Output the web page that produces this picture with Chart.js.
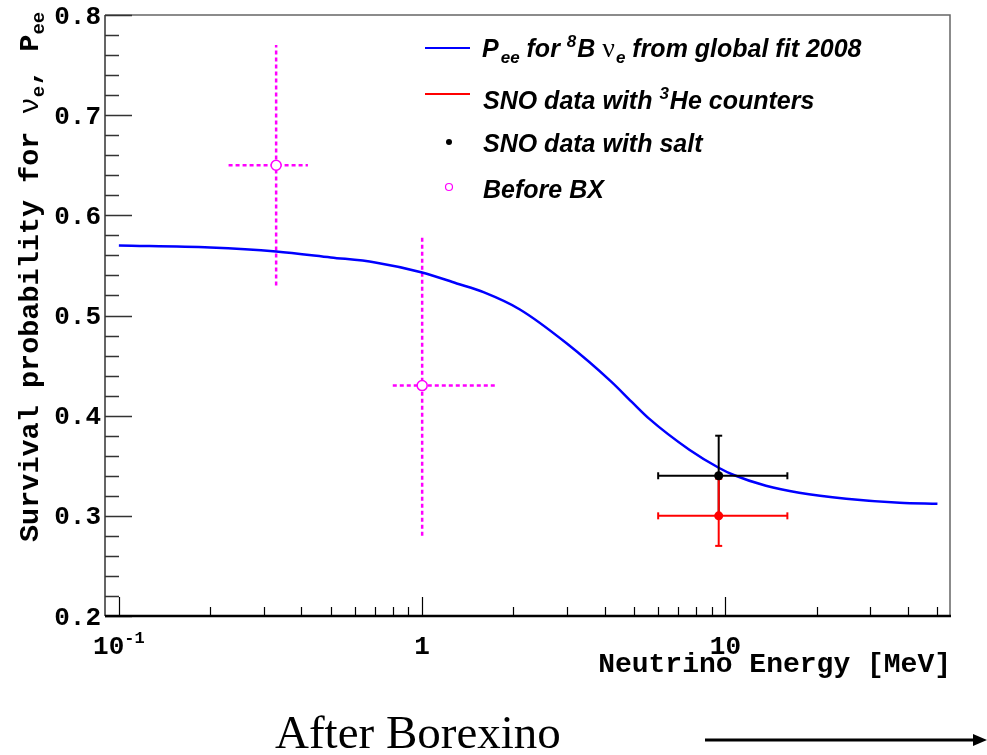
<!DOCTYPE html>
<html>
<head>
<meta charset="utf-8">
<script src="https://cdn.jsdelivr.net/npm/chart.js@4.4.1/dist/chart.umd.min.js"></script>
<style>
  html, body { margin: 0; padding: 0; background: #fff; }
  #wrap { width: 987px; height: 755px; }
</style>
</head>
<body>
<div id="wrap"><canvas id="pee" width="987" height="755"></canvas></div>
<script>
// global fit curve (Pee for 8B)
var fitE = [0.1, 0.2, 0.33, 0.5, 0.7, 1.0, 1.3, 1.6, 2.1, 3.0, 4.2, 4.9, 5.6, 7.6, 9.5, 10.6, 13.6, 17.5, 25, 37.5, 50];
var fitP = [0.570, 0.568, 0.564, 0.558, 0.553, 0.543, 0.532, 0.523, 0.506, 0.472, 0.434, 0.414, 0.397, 0.366, 0.348, 0.341, 0.330, 0.323, 0.317, 0.313, 0.312];

// SNO with 3He counters
var heE = [9.5], heP = [0.30], heElo = [6.0], heEhi = [16.0], hePlo = [0.27], hePhi = [0.337];
// SNO with salt
var saltE = [9.5], saltP = [0.34], saltElo = [6.0], saltEhi = [16.0], saltPlo = [0.30], saltPhi = [0.38];
// before BX
var bxE = [0.33, 1.0], bxP = [0.65, 0.43], bxElo = [0.23, 0.80], bxEhi = [0.42, 1.75], bxPlo = [0.53, 0.28], bxPhi = [0.77, 0.58];

// axes
var xMin = 0.09, xMax = 55, yMin = 0.2, yMax = 0.8;
var yTicks = [0.2, 0.3, 0.4, 0.5, 0.6, 0.7, 0.8];
var yTickLabels = ['0.2', '0.3', '0.4', '0.5', '0.6', '0.7', '0.8'];
var xTicks = [0.1, 1, 10];
var xTickLabels = [['10', '-1'], ['1', ''], ['10', '']];

var MONO = '"Liberation Mono", "Courier New", monospace';
var SANS = '"Liberation Sans", Arial, sans-serif';
var SERIF = '"Liberation Serif", "Times New Roman", serif';

function errorBars(xs, ys, xlo, xhi, ylo, yhi, color, dashed, caps) {
  var sets = [];
  for (var i = 0; i < xs.length; i++) {
    var base = {
      showLine: true, borderColor: color, borderWidth: dashed ? 2.5 : 2,
      borderDash: dashed ? [4, 3] : [], backgroundColor: color,
      pointRadius: caps ? 3.5 : 0, pointStyle: 'line',
      pointBorderColor: color, pointBorderWidth: 2
    };
    sets.push(Object.assign({}, base, {
      data: [{x: xlo[i], y: ys[i]}, {x: xhi[i], y: ys[i]}], pointRotation: 90
    }));
    sets.push(Object.assign({}, base, {
      data: [{x: xs[i], y: ylo[i]}, {x: xs[i], y: yhi[i]}], pointRotation: 0
    }));
  }
  return sets;
}

function pts(xs, ys) {
  return xs.map(function(v, i) { return {x: v, y: ys[i]}; });
}

// draw runs of text with sub/superscripts, returns width
function runs(ctx, parts, x, y, measureOnly) {
  var cx = x;
  parts.forEach(function(p) {
    ctx.font = p.font;
    if (!measureOnly) ctx.fillText(p.t, cx, y + (p.dy || 0));
    cx += ctx.measureText(p.t).width + (p.gap || 0);
  });
  return cx - x;
}

var axesPlugin = {
  id: 'rootAxes',
  afterDatasetsDraw: function(chart) {
    var ctx = chart.ctx, a = chart.chartArea, xs = chart.scales.x, ys = chart.scales.y;
    ctx.save();
    // frame
    ctx.lineWidth = 1.5;
    ctx.strokeStyle = '#666';
    ctx.beginPath();
    ctx.moveTo(a.left, a.top); ctx.lineTo(a.right, a.top); ctx.lineTo(a.right, a.bottom);
    ctx.stroke();
    // y axis
    ctx.strokeStyle = '#333';
    ctx.beginPath();
    ctx.moveTo(a.left, a.top); ctx.lineTo(a.left, a.bottom);
    for (var k = 0; k <= 30; k++) {
      var v = yMin + k * 0.02;
      var py = Math.round(ys.getPixelForValue(v)) + 0.5;
      var len = (k % 5 === 0) ? 27 : 14;
      ctx.moveTo(a.left, py); ctx.lineTo(a.left + len, py);
    }
    ctx.stroke();
    // x axis
    ctx.strokeStyle = '#000';
    ctx.lineWidth = 1.2;
    ctx.beginPath();
    [0.1, 1, 10].forEach(function(dec) {
      for (var m = 1; m <= 9; m++) {
        var e = dec * m;
        if (e < xMin || e > xMax) continue;
        var px = Math.round(xs.getPixelForValue(e)) + 0.5;
        var len = (m === 1) ? 19 : 9;
        ctx.moveTo(px, a.bottom); ctx.lineTo(px, a.bottom - len);
      }
    });
    ctx.stroke();
    ctx.lineWidth = 2.5;
    ctx.beginPath();
    ctx.moveTo(a.left, a.bottom); ctx.lineTo(a.right + 1, a.bottom);
    ctx.stroke();

    // y tick labels
    ctx.fillStyle = '#000';
    ctx.font = 'bold 26px ' + MONO;
    ctx.textAlign = 'right';
    ctx.textBaseline = 'middle';
    yTicks.forEach(function(v, i) {
      ctx.fillText(yTickLabels[i], a.left - 4, ys.getPixelForValue(v) + 2);
    });
    // x tick labels
    ctx.textAlign = 'left';
    ctx.textBaseline = 'alphabetic';
    xTicks.forEach(function(v, i) {
      var parts = [{t: xTickLabels[i][0], font: 'bold 26px ' + MONO}];
      if (xTickLabels[i][1]) parts.push({t: xTickLabels[i][1], font: 'bold 17px ' + MONO, dy: -11});
      var w = runs(ctx, parts, 0, 0, true);
      runs(ctx, parts, xs.getPixelForValue(v) - w / 2, 654);
    });
    // x title
    ctx.font = 'bold 28px ' + MONO;
    ctx.textAlign = 'right';
    ctx.fillText('Neutrino Energy [MeV]', a.right + 1, 672);
    // y title
    ctx.save();
    ctx.translate(38, 542);
    ctx.rotate(-Math.PI / 2);
    ctx.textAlign = 'left';
    runs(ctx, [
      {t: 'Survival probability for ', font: 'bold 28.5px ' + MONO},
      {t: 'ν', font: '28.5px ' + MONO},
      {t: 'e', font: 'bold 19px ' + MONO, dy: 6},
      {t: ', P', font: 'bold 28.5px ' + MONO},
      {t: 'ee', font: 'bold 19px ' + MONO, dy: 6}
    ], 0, 0);
    ctx.restore();

    // legend
    var lf = 'italic bold 25px ' + SANS, lfs = 'italic bold 17px ' + SANS;
    ctx.textAlign = 'left';
    ctx.lineWidth = 2;
    ctx.strokeStyle = '#0000ff';
    ctx.beginPath(); ctx.moveTo(425, 48); ctx.lineTo(470, 48); ctx.stroke();
    ctx.strokeStyle = '#ff0000';
    ctx.beginPath(); ctx.moveTo(425, 94); ctx.lineTo(470, 94); ctx.stroke();
    ctx.fillStyle = '#000';
    ctx.beginPath(); ctx.arc(449, 142, 3, 0, Math.PI * 2); ctx.fill();
    ctx.strokeStyle = '#ff00ff'; ctx.lineWidth = 1.2;
    ctx.beginPath(); ctx.arc(449, 187, 3.5, 0, Math.PI * 2); ctx.stroke();
    ctx.fillStyle = '#000';
    runs(ctx, [
      {t: 'P', font: lf, gap: 2},
      {t: 'ee', font: lfs, dy: 6},
      {t: ' for ', font: lf},
      {t: '8', font: lfs, dy: -10, gap: 1},
      {t: 'B ', font: lf},
      {t: 'ν', font: '28px ' + SERIF, gap: 1},
      {t: 'e', font: lfs, dy: 6},
      {t: ' from global fit 2008', font: lf}
    ], 482, 57);
    runs(ctx, [
      {t: 'SNO data with ', font: lf},
      {t: '3', font: lfs, dy: -10, gap: 1},
      {t: 'He counters', font: lf}
    ], 483, 109);
    runs(ctx, [{t: 'SNO data with salt', font: lf}], 483, 152);
    runs(ctx, [{t: 'Before BX', font: lf}], 483, 198);

    // caption + arrow
    ctx.font = '47px ' + SERIF;
    ctx.fillText('After Borexino', 275, 748);
    ctx.strokeStyle = '#000'; ctx.lineWidth = 3;
    ctx.beginPath(); ctx.moveTo(705, 740); ctx.lineTo(975, 740); ctx.stroke();
    ctx.beginPath(); ctx.moveTo(987, 740); ctx.lineTo(973, 734); ctx.lineTo(973, 746); ctx.closePath(); ctx.fill();
    ctx.restore();
  }
};

// listed bottom layer first; reversed below since Chart.js paints dataset 0 on top
var layers = [];
layers = layers.concat(errorBars(bxE, bxP, bxElo, bxEhi, bxPlo, bxPhi, '#ff00ff', true, false));
layers.push({
  data: pts(bxE, bxP), showLine: false, pointStyle: 'circle', pointRadius: 5,
  pointBackgroundColor: '#fff', pointBorderColor: '#ff00ff', pointBorderWidth: 1.5
});
layers.push({
  data: pts(fitE, fitP), showLine: true, borderColor: '#0000ff', borderWidth: 2.5,
  cubicInterpolationMode: 'monotone', pointRadius: 0
});
layers = layers.concat(errorBars(saltE, saltP, saltElo, saltEhi, saltPlo, saltPhi, '#000', false, true));
layers = layers.concat(errorBars(heE, heP, heElo, heEhi, hePlo, hePhi, '#ff0000', false, true));
layers.push({
  data: pts(saltE, saltP), showLine: false, pointStyle: 'circle', pointRadius: 4.5,
  pointBackgroundColor: '#000', pointBorderColor: '#000', pointBorderWidth: 0
});
layers.push({
  data: pts(heE, heP), showLine: false, pointStyle: 'circle', pointRadius: 4.5,
  pointBackgroundColor: '#ff0000', pointBorderColor: '#ff0000', pointBorderWidth: 0
});
var datasets = layers.slice().reverse();

new Chart(document.getElementById('pee').getContext('2d'), {
  type: 'scatter',
  data: { datasets: datasets },
  options: {
    responsive: false,
    animation: false,
    devicePixelRatio: 1,
    layout: { padding: { left: 105, top: 15, right: 37, bottom: 139 } },
    plugins: { legend: { display: false }, tooltip: { enabled: false } },
    scales: {
      x: { type: 'logarithmic', min: xMin, max: xMax, display: false },
      y: { type: 'linear', min: yMin, max: yMax, display: false }
    }
  },
  plugins: [axesPlugin]
});
</script>
</body>
</html>
